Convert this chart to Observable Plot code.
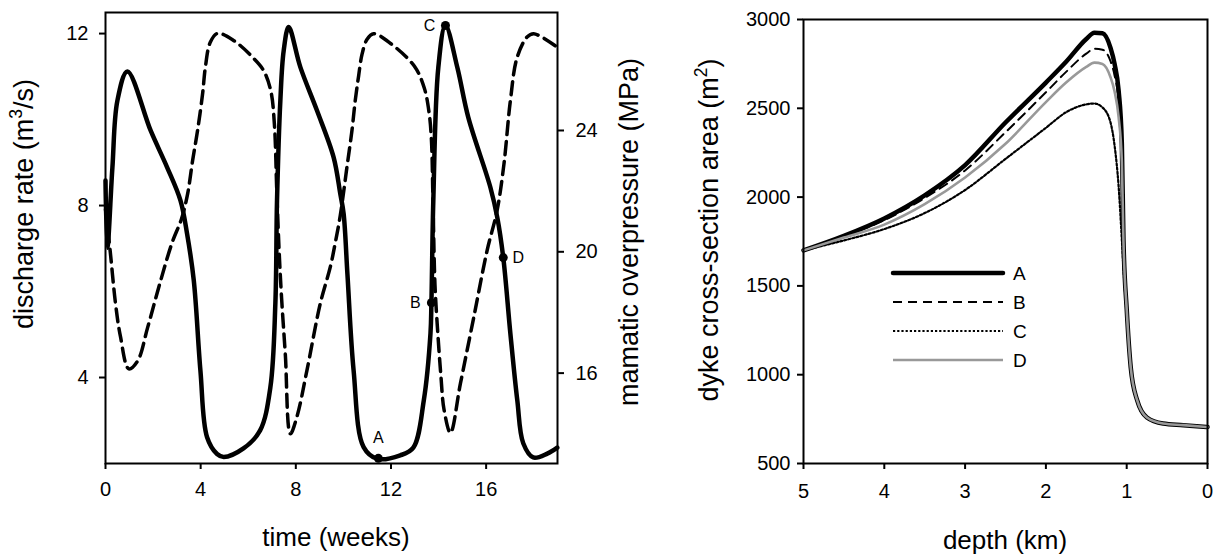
<!DOCTYPE html>
<html><head><meta charset="utf-8">
<script src="https://cdn.jsdelivr.net/npm/d3@7"></script>
<script src="https://cdn.jsdelivr.net/npm/@observablehq/plot@0.6"></script>
<style>
html,body{margin:0;padding:0;background:#fff;}
#wrap{position:relative;width:1213px;height:555px;overflow:hidden;font-family:"Liberation Sans",Arial,sans-serif;}
#left{position:absolute;left:0;top:0;}
#right{position:absolute;left:660px;top:0;}
#overlay{position:absolute;left:0;top:0;pointer-events:none;}
</style></head><body>
<div id="wrap"><div id="left"></div><div id="right"></div><svg id="overlay" width="1213" height="555"></svg></div>
<script>
// ---------- Left panel: discharge rate & magmatic overpressure vs time ----------
const dischargeTime = [0, 0.08, 0.29, 0.5, 0.92, 1.9, 2.59, 3.15, 3.43, 3.71, 3.99, 4.27, 4.69, 4.97, 5.8, 6.5, 6.93, 7.14, 7.21, 7.35, 7.49, 7.7, 8.19, 8.89, 9.59, 9.87, 10.01, 10.17, 10.43, 10.85, 11.42, 12.39, 12.94, 13.38, 13.66, 13.7, 13.78, 13.99, 14.29, 14.79, 15.25, 16.18, 16.47, 16.72, 17.02, 17.31, 17.56, 17.98, 18.57, 18.99];
const dischargeRate = [8.58, 7.02, 8.88, 10.44, 11.12, 9.74, 8.89, 8.12, 7.34, 6.26, 4.16, 2.61, 2.22, 2.15, 2.35, 2.77, 3.77, 5.72, 8.12, 10.44, 11.6, 12.15, 11.22, 10.21, 9.12, 8.27, 7.81, 6.4, 4.16, 2.38, 2.11, 2.19, 2.37, 3.47, 5.02, 5.74, 8.12, 11.21, 12.19, 11.21, 10.05, 8.42, 7.72, 6.79, 5.02, 3.47, 2.47, 2.14, 2.23, 2.37];

const pressureTime = [0, 0.2, 0.42, 0.63, 0.98, 1.35, 1.77, 2.3, 2.8, 3.2, 3.45, 3.66, 3.87, 4.08, 4.2, 4.4, 4.7, 5.4, 6.2, 6.65, 6.95, 7.1, 7.2, 7.3, 7.4, 7.56, 7.77, 8.05, 8.47, 9.03, 9.45, 9.66, 9.87, 10.15, 10.36, 10.5, 10.64, 10.78, 10.99, 11.27, 12.0, 13.0, 13.4, 13.6, 13.7, 13.77, 13.85, 13.97, 14.1, 14.23, 14.5, 14.92, 15.48, 16.04, 16.46, 16.75, 17.02, 17.3, 17.72, 18.0, 18.98];
const pressureValue = [21.4, 20.0, 18.3, 17.2, 16.14, 16.4, 17.5, 19.0, 20.3, 21.1, 21.9, 23.0, 24.0, 25.2, 26.1, 26.9, 27.2, 26.96, 26.4, 25.97, 25.3, 24.2, 22.0, 20.0, 18.5, 16.6, 14.0, 14.57, 16.1, 18.3, 19.5, 20.3, 21.2, 22.8, 24.0, 25.0, 25.8, 26.5, 27.0, 27.19, 26.86, 26.1, 25.4, 24.6, 23.7, 21.5, 18.9, 17.3, 15.9, 14.8, 14.03, 15.66, 17.84, 20.04, 21.36, 22.9, 24.99, 26.4, 27.08, 27.19, 26.75];

const markerLabel = ["A", "B", "C", "D"];
const markerTime = [11.47, 13.7, 14.29, 16.72];
const markerRate = [2.12, 5.74, 12.19, 6.79];
const markerSide = ["above", "left", "left", "right"];

const timeTicks = [0, 4, 8, 12, 16];
const rateTicks = [4, 8, 12];
const pressureTicks = [16, 20, 24];

// ---------- Right panel: dyke cross-section area vs depth ----------
const depthKm = [5, 4.5, 4, 3.5, 3, 2.5, 2, 1.75, 1.5, 1.4, 1.3, 1.2, 1.15, 1.1, 1.06, 1.04, 1.0, 0.95, 0.87, 0.75, 0.55, 0.3, 0];
const areaA = [1700, 1782, 1880, 2010, 2180, 2420, 2645, 2762, 2890, 2925, 2922, 2840, 2750, 2600, 2300, 1760, 1370, 1041, 855, 759, 725, 716, 705];
const areaB = [1700, 1778, 1870, 1995, 2150, 2365, 2590, 2705, 2808, 2835, 2830, 2765, 2685, 2540, 2250, 1740, 1365, 1041, 855, 759, 725, 716, 705];
const areaC = [1700, 1756, 1820, 1910, 2040, 2215, 2390, 2478, 2522, 2527, 2505, 2420, 2290, 2060, 1760, 1600, 1330, 1030, 848, 755, 723, 715, 705];
const areaD = [1700, 1772, 1845, 1960, 2110, 2300, 2535, 2645, 2733, 2757, 2750, 2675, 2595, 2450, 2200, 1750, 1368, 1041, 855, 759, 725, 716, 705];
const seriesNames = ["A", "B", "C", "D"];
const depthTicks = [5, 4, 3, 2, 1, 0];
const areaTicks = [500, 1000, 1500, 2000, 2500, 3000];

// ---------- build tables ----------
const rateDomain = [2, 12.49];
const pressureDomain = [13.02, 27.89];
const p2q = d3.scaleLinear().domain(pressureDomain).range(rateDomain);

const discharge = dischargeTime.map((t, i) => ({t, q: dischargeRate[i]}));
const pressure = pressureTime.map((t, i) => ({t, q: p2q(pressureValue[i])}));
const markers = markerLabel.map((l, i) => ({label: l, t: markerTime[i], q: markerRate[i], side: markerSide[i]}));

const ff = "'Liberation Sans', Arial, sans-serif";
const tickFont = 20;

const left = Plot.plot({
  width: 660, height: 555,
  marginLeft: 105, marginRight: 103, marginTop: 12, marginBottom: 92,
  style: {fontFamily: ff, fontSize: "20px", background: "transparent", color: "#000"},
  x: {domain: [0, 19]},
  y: {domain: rateDomain},
  marks: [
    Plot.axisX({ticks: timeTicks, tickSize: 6, tickPadding: 12, strokeWidth: 2, label: null, fontSize: tickFont}),
    Plot.axisY({ticks: rateTicks, tickSize: 6, tickPadding: 11, strokeWidth: 2, label: null, fontSize: tickFont}),
    Plot.axisY(pressureTicks.map(p => p2q(p)), {anchor: "right", tickSize: 6, tickPadding: 12, strokeWidth: 2, label: null, fontSize: tickFont, tickFormat: d => Math.round(p2q.invert(d))}),
    Plot.line(pressure, {x: "t", y: "q", curve: "catmull-rom", stroke: "#000", strokeWidth: 3.5, strokeDasharray: "13,7"}),
    Plot.line(discharge, {x: "t", y: "q", curve: "catmull-rom", stroke: "#000", strokeWidth: 4.5}),
    Plot.dot(markers, {x: "t", y: "q", r: 4.5, fill: "#000"}),
    Plot.text(markers.filter(d => d.side === "above"), {x: "t", y: "q", text: "label", dy: -20, fill: "#000", fontSize: 16}),
    Plot.text(markers.filter(d => d.side === "left"), {x: "t", y: "q", text: "label", dx: -16, textAnchor: "middle", fill: "#000", fontSize: 16}),
    Plot.text(markers.filter(d => d.side === "right"), {x: "t", y: "q", text: "label", dx: 15, textAnchor: "middle", fill: "#000", fontSize: 16}),
    Plot.frame({stroke: "#000", strokeWidth: 2})
  ]
});
document.getElementById("left").appendChild(left);

const areaRows = [];
const areaSeries = [areaA, areaB, areaC, areaD];
seriesNames.forEach((s, k) => depthKm.forEach((d, i) => areaRows.push({s, d, a: areaSeries[k][i]})));
const styleOf = {
  A: {stroke: "#000", strokeWidth: 4.5, dash: null},
  B: {stroke: "#000", strokeWidth: 2, dash: "9,6"},
  C: {stroke: "#000", strokeWidth: 2.2, dash: "2.2,2"},
  D: {stroke: "#999", strokeWidth: 2.6, dash: null}
};

const right = Plot.plot({
  width: 553, height: 555,
  marginLeft: 143, marginRight: 6, marginTop: 19, marginBottom: 92,
  style: {fontFamily: ff, fontSize: "20px", background: "transparent", color: "#000", overflow: "visible"},
  x: {domain: [5, 0]},
  y: {domain: [500, 3000]},
  marks: [
    Plot.axisX({ticks: depthTicks, tickSize: 6, tickPadding: 14, strokeWidth: 2, label: null, fontSize: tickFont, tickFormat: d => String(d)}),
    Plot.axisY({ticks: areaTicks, tickSize: 6, tickPadding: 7, strokeWidth: 2, label: null, fontSize: tickFont, tickFormat: d => String(d)}),
    ...seriesNames.map(s => Plot.line(areaRows.filter(r => r.s === s), {
      x: "d", y: "a", curve: "monotone-x",
      stroke: styleOf[s].stroke, strokeWidth: styleOf[s].strokeWidth,
      strokeDasharray: styleOf[s].dash
    })),
    Plot.frame({stroke: "#000", strokeWidth: 2})
  ]
});
document.getElementById("right").appendChild(right);

// ---------- titles & legend ----------
const ov = d3.select("#overlay");
function title(x, y, rot, parts, size) {
  const t = ov.append("text").attr("transform", `translate(${x},${y}) rotate(${rot})`)
    .attr("text-anchor", "middle").attr("font-family", ff).attr("font-size", size).attr("fill", "#000");
  parts.forEach(p => {
    const ts = t.append("tspan").text(p.s);
    if (p.sup) ts.attr("font-size", size * 0.65).attr("dy", -size * 0.4);
    else if (p.after) ts.attr("dy", size * 0.4);
  });
}
title(33, 204, -90, [{s: "discharge rate (m"}, {s: "3", sup: true}, {s: "/s)", after: true}], 27);
title(638, 232, -90, [{s: "mamatic overpressure (MPa)"}], 27);
title(336, 546, 0, [{s: "time (weeks)"}], 26);
title(718, 230, -90, [{s: "dyke cross-section area (m"}, {s: "2", sup: true}, {s: ")", after: true}], 27);
title(1005, 549, 0, [{s: "depth (km)"}], 26);

const legendY = [273, 302, 331, 360];
seriesNames.forEach((s, i) => {
  ov.append("line").attr("x1", 893).attr("x2", 1003).attr("y1", legendY[i]).attr("y2", legendY[i])
    .attr("stroke", styleOf[s].stroke).attr("stroke-width", styleOf[s].strokeWidth)
    .attr("stroke-linecap", s === "A" ? "round" : "butt")
    .attr("stroke-dasharray", styleOf[s].dash);
  ov.append("text").attr("x", 1013).attr("y", legendY[i] + 7).attr("font-family", ff)
    .attr("font-size", 19).attr("fill", "#000").text(s);
});
</script>
</body></html>
